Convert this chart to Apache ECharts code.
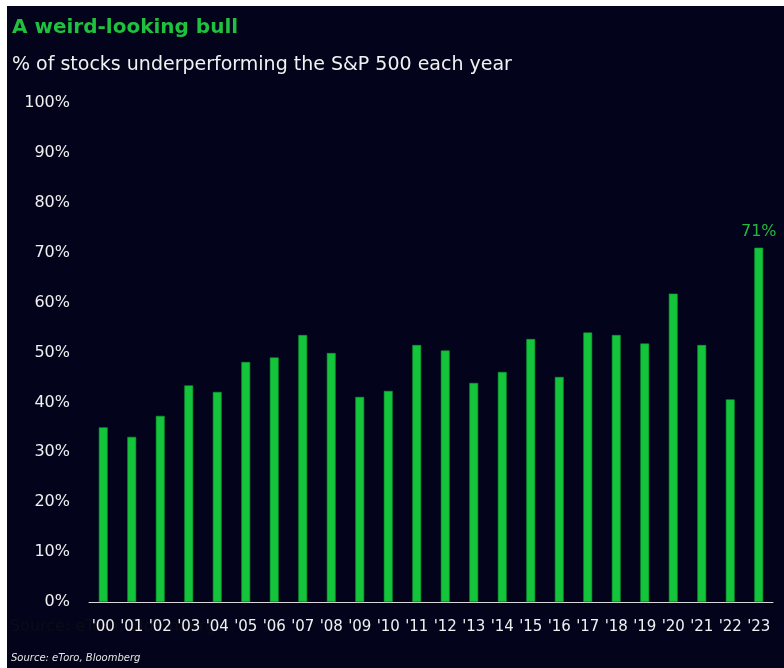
<!DOCTYPE html>
<html><head><meta charset="utf-8">
<script src="https://cdn.jsdelivr.net/npm/echarts@6/dist/echarts.min.js"></script>
<style>html,body{margin:0;padding:0;background:#fff;}#c{width:784px;height:668px;}</style>
</head><body><div id="c"></div>
<script>
const years = ["'00","'01","'02","'03","'04","'05","'06","'07","'08","'09","'10","'11","'12","'13","'14","'15","'16","'17","'18","'19","'20","'21","'22","'23"];
const pctUnderperforming = [35.0,33.1,37.3,43.4,42.1,48.1,49.0,53.5,49.9,41.1,42.3,51.5,50.4,43.9,46.1,52.7,45.1,54.0,53.5,51.8,61.8,51.5,40.6,71.0];
const yTicks = [0,10,20,30,40,50,60,70,80,90,100];
const labelledIndex = 23;
const labelText = '71%';

const chart = echarts.init(document.getElementById('c'), null, {renderer:'canvas'});
const FONT = '"DejaVu Sans"';
chart.setOption({
  backgroundColor: '#ffffff',
  animation: false,
  graphic: [
    {type:'rect', shape:{x:7,y:6,width:777,height:662}, style:{fill:'#03031c'}, z:-10},
    {type:'text', left:12, top:18, style:{text:'A weird-looking bull', fill:'#1fc13e', font:'bold 20px '+FONT}},
    {type:'text', left:12, top:56, style:{text:'% of stocks underperforming the S&P 500 each year', fill:'#f2f2f2', font:'19px '+FONT}},
    {type:'text', left:10, top:619, style:{text:'Source: eToro, Bloomberg', fill:'#0c0c16', font:'16px '+FONT}},
    {type:'text', left:11, top:653, style:{text:'Source: eToro, Bloomberg', fill:'#e6e6e6', font:'italic 10px '+FONT}}
  ],
  grid: {left:89, right:11, top:103, bottom:66, containLabel:false},
  xAxis: {
    type:'category', data: years,
    axisLine:{lineStyle:{color:'#d9d9d9', width:1}},
    axisTick:{show:false},
    axisLabel:{color:'#f0f0f0', fontSize:15, fontFamily:'DejaVu Sans', margin:18, interval:0}
  },
  yAxis: {
    type:'value', min:0, max:100, interval:10,
    axisLine:{show:false}, axisTick:{show:false}, splitLine:{show:false},
    axisLabel:{color:'#f0f0f0', fontSize:16, fontFamily:'DejaVu Sans', margin:19, formatter: v => yTicks.includes(v) ? v + '%' : ''}
  },
  series: [{
    type:'bar', data: pctUnderperforming.map((v,i)=> i===labelledIndex ? {value:v, label:{show:true, formatter:labelText}} : v),
    barWidth:'31%',
    itemStyle:{color:'#14c43a', borderColor:'#0f9a30', borderWidth:0.6},
    label:{show:false, position:'top', distance:8, color:'#22b83f', fontSize:16, fontFamily:'DejaVu Sans'}
  }]
});
</script></body></html>
